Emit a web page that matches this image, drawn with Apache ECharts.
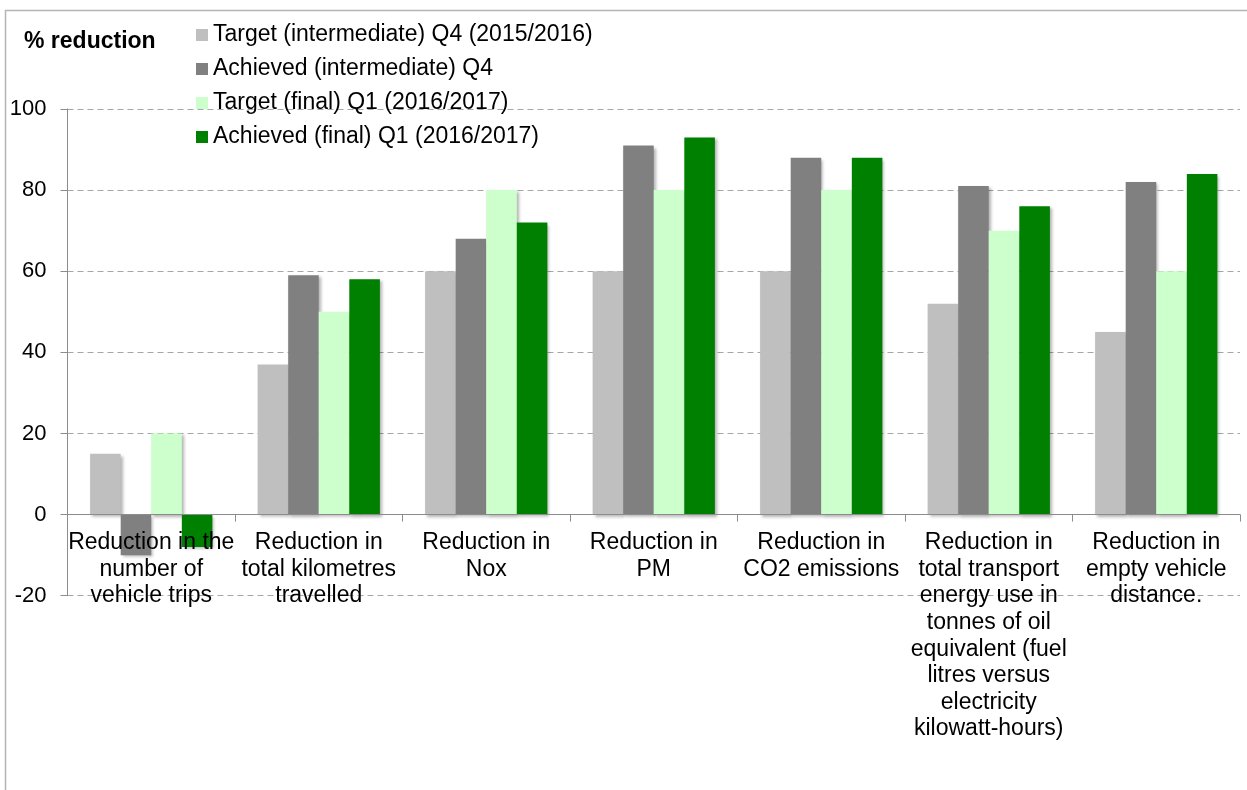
<!DOCTYPE html>
<html>
<head>
<meta charset="utf-8">
<script src="https://cdn.jsdelivr.net/npm/echarts@6/dist/echarts.min.js"></script>
<style>
  html, body { margin: 0; padding: 0; background: #fff; }
  #container { width: 1247px; height: 790px; }
</style>
</head>
<body>
<div id="container"></div>
<script>
var categories = [
    'Reduction in the\nnumber of\nvehicle trips',
    'Reduction in\ntotal kilometres\ntravelled',
    'Reduction in\nNox',
    'Reduction in\nPM',
    'Reduction in\nCO2 emissions',
    'Reduction in\ntotal transport\nenergy use in\ntonnes of oil\nequivalent (fuel\nlitres versus\nelectricity\nkilowatt-hours)',
    'Reduction in\nempty vehicle\ndistance.'
];
var seriesNames = [
    'Target (intermediate) Q4 (2015/2016)',
    'Achieved (intermediate) Q4',
    'Target (final) Q1 (2016/2017)',
    'Achieved (final) Q1 (2016/2017)'
];
var targetInter = [15, 37, 60, 60, 60, 52, 45];
var achievedInter = [-10, 59, 68, 91, 88, 81, 82];
var targetFinal = [20, 50, 80, 80, 80, 70, 60];
var achievedFinal = [-8, 58, 72, 93, 88, 76, 84];
var yMin = -20, yMax = 100, yStep = 20;

var colors = ['#bfbfbf', '#808080', '#ccffcc', '#008000'];
var font = 'Liberation Sans, Arial, sans-serif';

var dom = document.getElementById('container');
var myChart = echarts.init(dom);

// grid box in pixels
var gridTop = 109, gridBottom = 194.3;
var gridH = 790 - gridTop - gridBottom;
// move the category axis up to the zero line (labels included)
var zeroOffset = -gridH * (0 - yMin) / (yMax - yMin);

var allData = [targetInter, achievedInter, targetFinal, achievedFinal];
var series = [];
for (var i = 0; i < allData.length; i++) {
    series.push({
        name: seriesNames[i],
        type: 'bar',
        data: allData[i],
        barGap: '0%',
        barCategoryGap: '27%',
        itemStyle: {
            color: colors[i],
            shadowColor: 'rgba(0,0,0,0.3)',
            shadowBlur: 3,
            shadowOffsetX: 2,
            shadowOffsetY: 2
        }
    });
}

var option = {
    animation: false,
    textStyle: { fontFamily: font },
    color: colors,
    title: {
        text: '% reduction',
        left: 19,
        top: 24,
        textStyle: { fontFamily: font, fontSize: 23, fontWeight: 'bold', color: '#000', lineHeight: 26 }
    },
    legend: {
        orient: 'vertical',
        left: 191,
        top: 17,
        itemWidth: 12,
        itemHeight: 12,
        itemGap: 8,
        icon: 'rect',
        data: seriesNames,
        textStyle: { fontFamily: font, fontSize: 23, color: '#000', lineHeight: 26 }
    },
    graphic: [{
        type: 'rect',
        shape: { x: 5.5, y: 10.5, width: 1400, height: 900 },
        style: { fill: 'none', stroke: '#b5b5b5', lineWidth: 1.5 },
        silent: true
    }],
    grid: {
        left: 67.5,
        right: 7,
        top: gridTop,
        bottom: gridBottom,
        outerBoundsMode: 'none',
        containLabel: false
    },
    xAxis: {
        type: 'category',
        data: categories,
        z: 10,
        offset: zeroOffset,
        axisLine: { onZero: false, lineStyle: { color: '#8c8c8c', width: 1 } },
        axisTick: { show: true, length: 7, lineStyle: { color: '#8c8c8c' } },
        axisLabel: {
            interval: 0,
            margin: 15,
            fontFamily: font,
            fontSize: 23,
            lineHeight: 26.6,
            color: '#000',
            align: 'center'
        }
    },
    yAxis: {
        type: 'value',
        min: yMin,
        max: yMax,
        interval: yStep,
        axisLine: { show: true, lineStyle: { color: '#8c8c8c', width: 1 } },
        axisTick: { show: true, length: 7, lineStyle: { color: '#8c8c8c' } },
        axisLabel: {
            margin: 21,
            fontFamily: font,
            fontSize: 22,
            color: '#000'
        },
        splitLine: {
            show: true,
            lineStyle: { color: '#a6a6a6', type: [6, 4], width: 1 }
        }
    },
    series: series
};

if (option && typeof option === 'object') {
    myChart.setOption(option);
}
</script>
</body>
</html>
